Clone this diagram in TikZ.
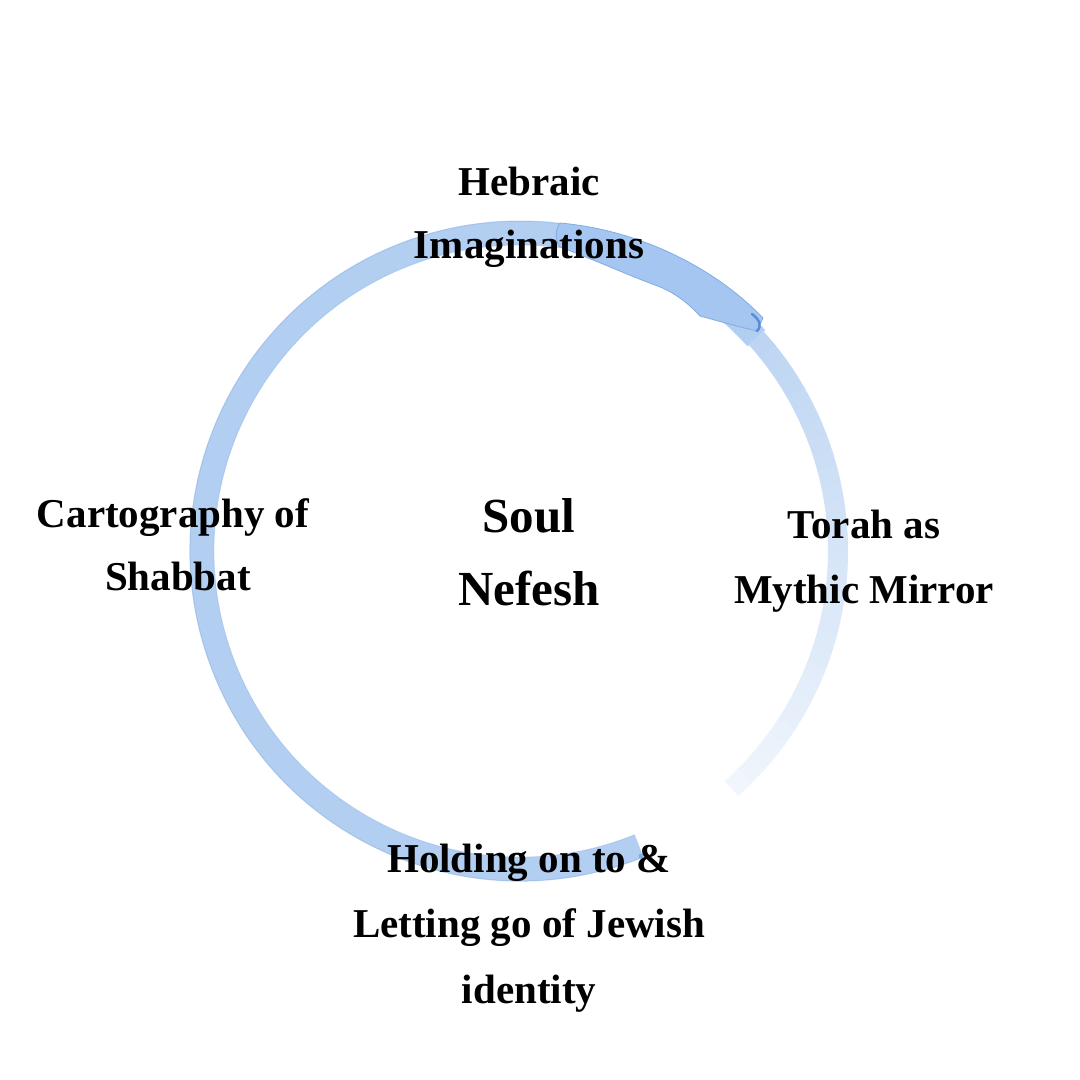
\documentclass[tikz,border=0pt]{standalone}
\usepackage{fontspec}
\setmainfont{Liberation Serif}
\definecolor{wash}{RGB}{178,206,240}
\definecolor{washedge}{RGB}{130,172,228}
\definecolor{blobc}{RGB}{165,198,240}
\definecolor{tipc}{RGB}{90,140,215}
\begin{document}
\begin{tikzpicture}[x=1pt,y=-1pt,
  lbl/.style={font=\bfseries\fontsize{41}{64}\selectfont, anchor=base, inner sep=0pt, text=black},
  big/.style={font=\bfseries\fontsize{49}{74}\selectfont, anchor=base, inner sep=0pt, text=black},
  band/.style={line width=24pt, line cap=butt}]
\fill[white] (0,0) rectangle (1080,1080);
\useasboundingbox (0,0) rectangle (1080,1080);
\coordinate (c) at (520,551);
% main ring
\draw[band, wash] (c) ++(68:318) arc[start angle=68, end angle=318, radius=318];
\draw[washedge, line width=1pt, opacity=0.5] (c) ++(68:330) arc[start angle=68, end angle=290, radius=330];
\draw[washedge, line width=0.8pt, opacity=0.35] (c) ++(68:306) arc[start angle=68, end angle=280, radius=306];
% gradual fade on the right side
\foreach \a [evaluate=\a as \m using {int(85-(\a-318)*0.75)}] in {318,321,...,407}{
  \draw[band, line width=20pt, wash!\m!white] (c) ++(\a:318) arc[start angle=\a, end angle=\a+3.3, radius=318];
}
% blob at top right
\fill[blobc, draw=washedge, line width=0.8pt]
  (560,223) .. controls (640,230) and (715,268) .. (763,318)
  -- (757,331) .. controls (735,326) and (715,320) .. (700,316)
  .. controls (690,305) and (675,292) .. (655,285)
  .. controls (630,276) and (600,262) .. (560,247)
  .. controls (555,240) and (555,230) .. (560,223) -- cycle;
\draw[tipc, line width=2.5pt, line cap=round] (752,314) .. controls (760,320) and (762,326) .. (757,331);
% small dot
\fill[washedge] (641,856) circle (2.5);
% labels
\node[lbl] (h1) at (529,195) {Hebraic};
\node[lbl] (h2) at (529,258) {Imaginations};
\node[lbl] (c1) at (173,527) {Cartography of};
\node[lbl] (c2) at (178,590) {Shabbat};
\node[big] (s1) at (529,532) {Soul};
\node[big] (s2) at (529,605) {Nefesh};
\node[lbl] (t1) at (864,538) {Torah as};
\node[lbl] (t2) at (864,603) {Mythic Mirror};
\node[lbl] (l1) at (529,872) {Holding on to \&};
\node[lbl] (l2) at (529,937) {Letting go of Jewish};
\node[lbl] (l3) at (529,1003) {identity};
\end{tikzpicture}
\end{document}
